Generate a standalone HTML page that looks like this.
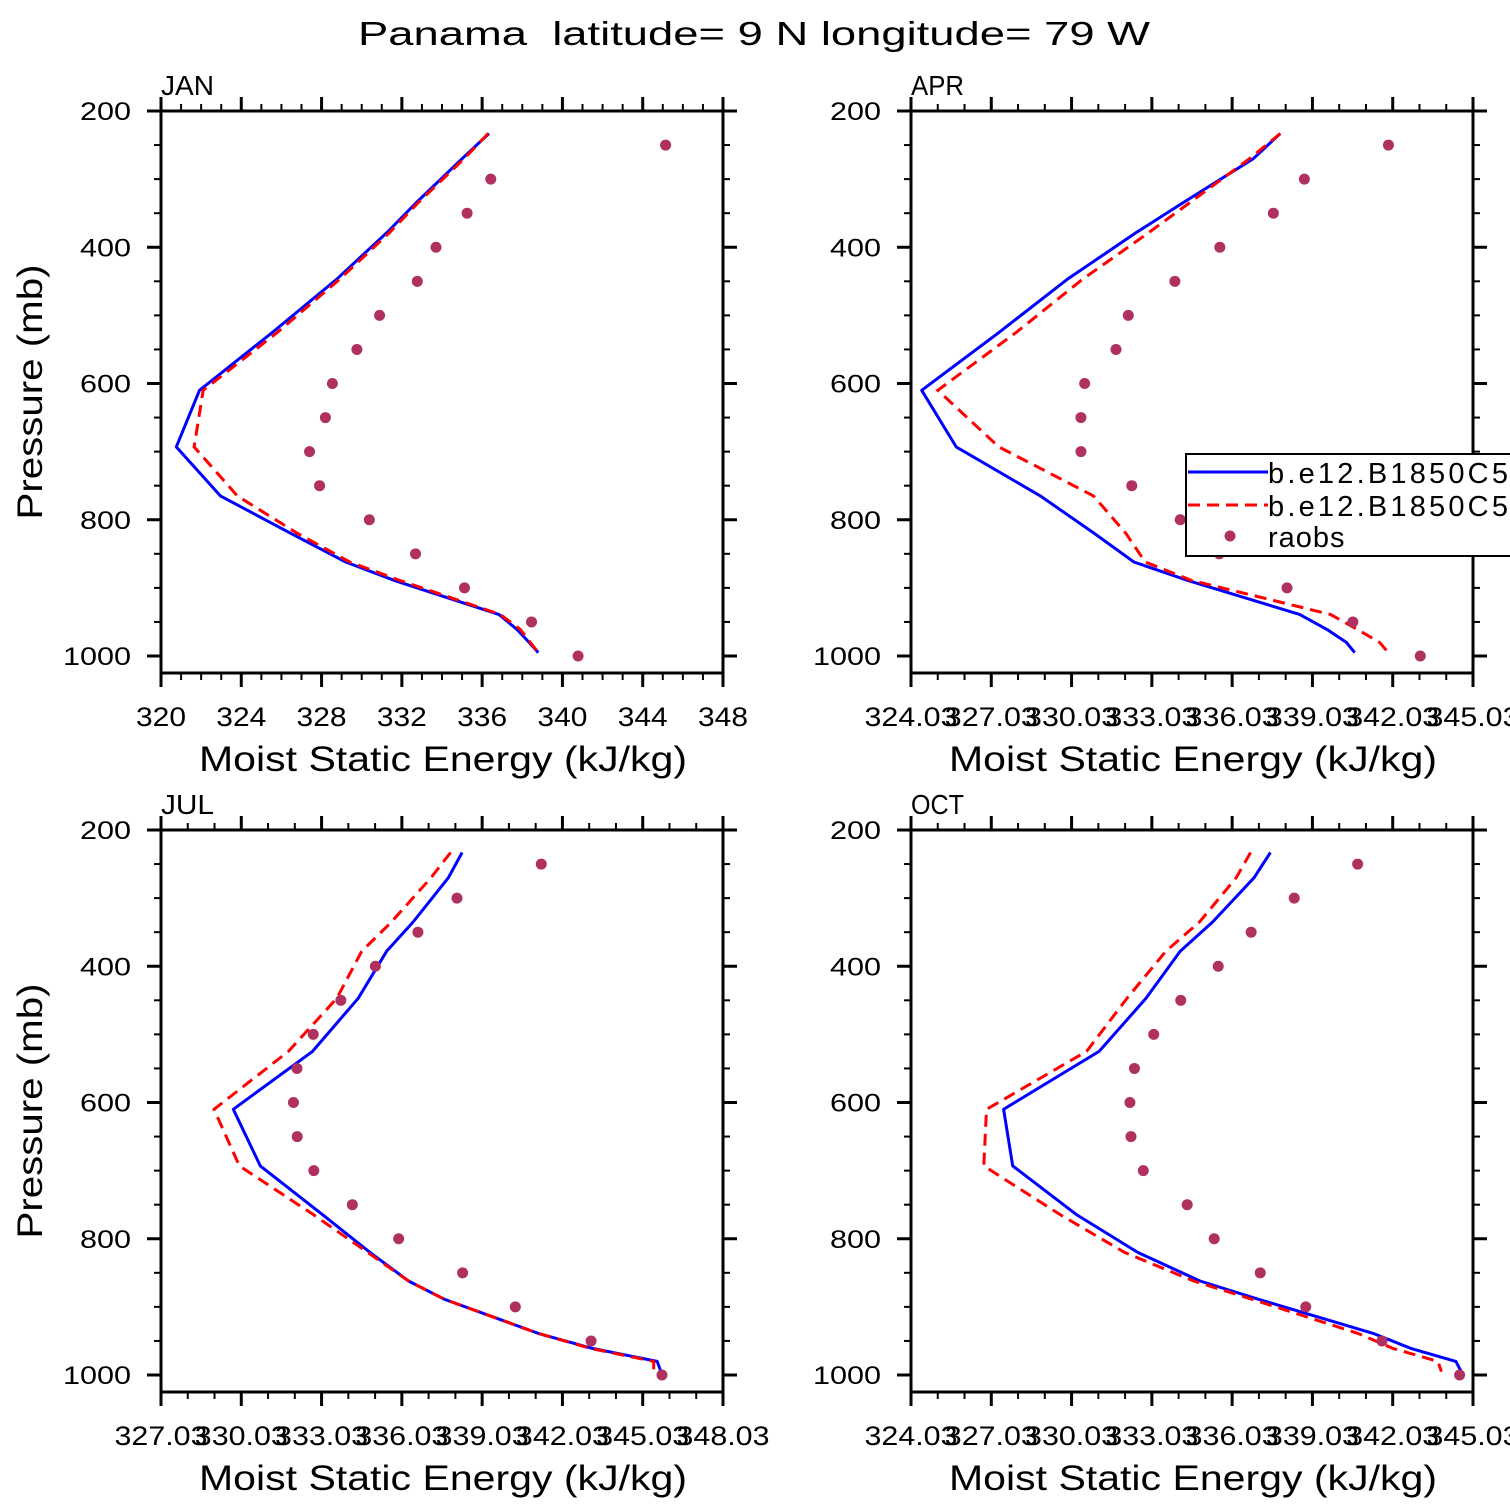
<!DOCTYPE html>
<html><head><meta charset="utf-8"><style>
html,body{margin:0;padding:0;background:#fff;}
svg{display:block;font-family:"Liberation Sans",sans-serif;}
</style></head><body>
<svg id="fig" width="1510" height="1510" viewBox="0 0 1510 1510" xmlns="http://www.w3.org/2000/svg">
<rect x="0" y="0" width="1510" height="1510" fill="#fff"/>
<text x="754" y="45" font-size="33" text-anchor="middle" textLength="792" lengthAdjust="spacingAndGlyphs">Panama&#160; latitude= 9 N longitude= 79 W</text>
<g id="plots"></g>
</svg>
<script>
const levels = [233,270,335,378,447,525,610,693,765,820,862,889,939,961,980,995];
const obsLevels = [250,300,350,400,450,500,550,600,650,700,750,800,850,900,950,1000];
const monthNames = ["JAN","APR","JUL","OCT"];
const janBlue = [336.34,335.0,332.7,331.27,328.75,325.55,321.92,320.76,322.96,326.47,329.2,331.62,336.83,337.73,338.34,338.8];
const janRed = [336.3,335.1,332.8,331.4,328.9,325.8,322.1,321.65,323.8,326.8,329.4,331.9,336.9,337.9,338.4,338.8];
const janObs = [345.14,336.43,335.25,333.70,332.77,330.89,329.76,328.54,328.19,327.40,327.90,330.38,332.68,335.12,338.46,340.78];
const aprBlue = [337.83,336.82,334.18,332.46,329.87,327.32,324.43,325.72,328.86,330.88,332.36,334.37,338.55,339.57,340.3,340.61];
const aprRed = [337.83,336.68,334.43,332.93,330.44,327.96,325.03,327.31,330.85,332.06,332.78,334.51,339.70,340.71,341.54,341.87];
const aprObs = [341.87,338.73,337.57,335.57,333.89,332.15,331.69,330.52,330.38,330.38,332.28,334.09,335.55,338.08,340.54,343.06];
const julBlue = [338.28,337.77,336.45,335.46,334.40,332.69,329.73,330.74,333.08,334.84,336.28,337.63,341.13,343.15,345.57,345.71];
const julRed = [337.85,337.12,335.64,334.53,333.60,331.79,329.01,329.96,332.74,334.75,336.28,337.63,341.13,343.08,345.44,345.44];
const julObs = [341.24,338.09,336.63,335.04,333.75,332.72,332.11,331.98,332.12,332.74,334.18,335.91,338.30,340.27,343.10,345.75];
const octBlue = [337.46,336.85,335.30,334.09,332.81,331.06,327.49,327.83,330.23,332.50,334.83,337.03,341.30,342.71,344.39,344.59];
const octRed = [336.72,336.18,334.81,333.55,332.10,330.59,326.85,326.75,329.62,332.01,334.59,336.79,340.73,342.04,343.72,343.85];
const octObs = [340.72,338.35,336.74,335.51,334.11,333.10,332.38,332.21,332.25,332.71,334.35,335.36,337.08,338.78,341.63,344.53];
const janTicks = ["320","324","328","332","336","340","344","348"];
const aprTicks = ["324.03","327.03","330.03","333.03","336.03","339.03","342.03","345.03"];
const julTicks = ["327.03","330.03","333.03","336.03","339.03","342.03","345.03","348.03"];
const octTicks = ["324.03","327.03","330.03","333.03","336.03","339.03","342.03","345.03"];
const yTicks = ["200","400","600","800","1000"];
const legendLabels = ["b.e12.B1850C5.f09_g16.001","b.e12.B1850C5.f09_g16.002","raobs"];

const NS="http://www.w3.org/2000/svg";
const root=document.getElementById('plots');
function mk(tag,attrs,parent){const e=document.createElementNS(NS,tag);for(const k in attrs)e.setAttribute(k,attrs[k]);(parent||root).appendChild(e);return e;}

const panels=[
 {name:"jan",left:161,top:111,ticks:janTicks,xmin:320,xmax:348,major:4,blue:janBlue,red:janRed,obs:janObs,lw:50,ytitle:true},
 {name:"apr",left:911,top:111,ticks:aprTicks,xmin:324.03,xmax:345.03,major:3,blue:aprBlue,red:aprRed,obs:aprObs,lw:93,ytitle:false},
 {name:"jul",left:161,top:830,ticks:julTicks,xmin:327.03,xmax:348.03,major:3,blue:julBlue,red:julRed,obs:julObs,lw:93,ytitle:true},
 {name:"oct",left:911,top:830,ticks:octTicks,xmin:324.03,xmax:345.03,major:3,blue:octBlue,red:octRed,obs:octObs,lw:93,ytitle:false}
];
const W=562,H=562;

panels.forEach((P,pi)=>{
  const g=mk('g',{});
  
  
  const xs=v=>P.left+(v-P.xmin)/(P.xmax-P.xmin)*W;
  const ys=p=>P.top+(p-200)*545/800;
  const bottom=P.top+H, right=P.left+W;
  const ml=mk('text',{x:P.left,y:P.top-16,'font-size':28,textLength:53,lengthAdjust:'spacingAndGlyphs'},g);
  ml.textContent=monthNames[pi];
  
  
  const nUnits=Math.round(P.xmax-P.xmin);
  for(let i=0;i<=nUnits;i++){
    const v=P.xmin+i; const x=xs(v); const isMaj=(i%P.major===0); const L=isMaj?14:7;
    mk('line',{x1:x,y1:bottom,x2:x,y2:bottom+L,stroke:'#000','stroke-width':isMaj?3:2},g);
    mk('line',{x1:x,y1:P.top,x2:x,y2:P.top-L,stroke:'#000','stroke-width':isMaj?3:2},g);
  }
  P.ticks.forEach((t,i)=>{
    const x=xs(P.xmin+i*P.major);
    const tx=mk('text',{x:x,y:bottom+53,'font-size':27,'text-anchor':'middle',textLength:P.lw,lengthAdjust:'spacingAndGlyphs'},g);
    tx.textContent=t;
    
    
  });
  for(let p=200;p<=1000;p+=50){
    const y=ys(p); const isMaj=(p%200===0); const L=isMaj?14:7;
    mk('line',{x1:P.left,y1:y,x2:P.left-L,y2:y,stroke:'#000','stroke-width':isMaj?3:2},g);
    mk('line',{x1:right,y1:y,x2:right+L,y2:y,stroke:'#000','stroke-width':isMaj?3:2},g);
  }
  yTicks.forEach(t=>{
    const y=ys(+t);
    const ty=mk('text',{x:P.left-30,y:y+9,'font-size':25,'text-anchor':'end',textLength:t.length*17,lengthAdjust:'spacingAndGlyphs'},g);
    ty.textContent=t;
    
    
  });
  const xt=mk('text',{x:P.left+282,y:bottom+98,'font-size':35,'text-anchor':'middle',textLength:488,lengthAdjust:'spacingAndGlyphs'},g);
  xt.textContent="Moist Static Energy (kJ/kg)";
  
  
  if(P.ytitle){
    const yt=mk('text',{x:0,y:0,'font-size':35,'text-anchor':'middle',textLength:255,lengthAdjust:'spacingAndGlyphs',transform:`translate(${P.left-119},${P.top+281}) rotate(-90)`},g);
    yt.textContent="Pressure (mb)";
    
    
  }
  const cid='clip'+pi;
  const cp=mk('clipPath',{id:cid},g); mk('rect',{x:P.left,y:P.top,width:W,height:H},cp);
  const dg=mk('g',{'clip-path':`url(#${cid})`},g);
  const pts=arr=>arr.map((v,i)=>xs(v).toFixed(1)+','+ys(levels[i]).toFixed(1)).join(' ');
  const bl=mk('polyline',{points:pts(P.blue),fill:'none',stroke:'#0000ff','stroke-width':3,'stroke-linejoin':'round'},dg);
  
  
  const rl=mk('polyline',{points:pts(P.red),fill:'none',stroke:'#ff0000','stroke-width':3,'stroke-dasharray':'12,7'},dg);
  
  
  P.obs.forEach((v,i)=>{
    const c=mk('circle',{cx:xs(v),cy:ys(obsLevels[i]),r:5.5,fill:'#b03060'},dg);
    
    
  });
  const fr=mk('rect',{x:P.left,y:P.top,width:W,height:H,fill:'none',stroke:'#000','stroke-width':3},g);
  
  
});

const lg=mk('g',{});


mk('rect',{x:1186,y:454,width:360,height:102,fill:'#fff',stroke:'#000','stroke-width':2},lg);
mk('line',{x1:1188,y1:472,x2:1268,y2:472,stroke:'#0000ff','stroke-width':3},lg);
mk('line',{x1:1188,y1:505,x2:1268,y2:505,stroke:'#ff0000','stroke-width':3,'stroke-dasharray':'12,7'},lg);
mk('circle',{cx:1230,cy:536,r:5.5,fill:'#b03060'},lg);
[483,516,547].forEach((y,i)=>{
  const t=mk('text',{x:1268,y:y,'font-size':29,'letter-spacing':i<2?3.2:1},lg);
  t.textContent=legendLabels[i];
  
  
});
</script>
</body></html>
